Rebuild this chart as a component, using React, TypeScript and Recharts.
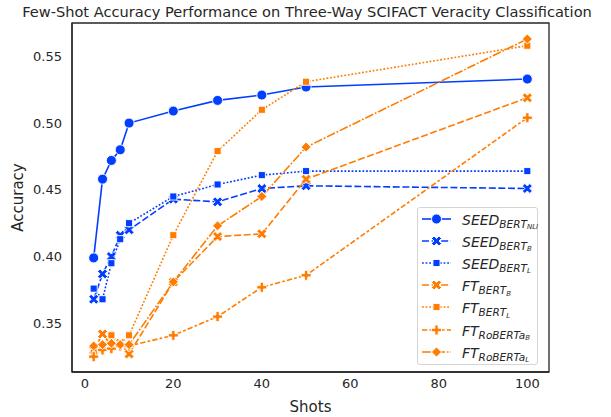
import React from 'react';
import { LineChart, Line, XAxis, YAxis, Legend, ReferenceArea } from 'recharts';

const shots = [2, 4, 6, 8, 10, 20, 30, 40, 50, 100];
const seedBertNli = [0.399, 0.458, 0.472, 0.480, 0.500, 0.509, 0.517, 0.521, 0.527, 0.533];
const seedBertB = [0.368, 0.387, 0.400, 0.416, 0.420, 0.443, 0.441, 0.451, 0.453, 0.451];
const seedBertL = [0.376, 0.368, 0.395, 0.413, 0.425, 0.445, 0.454, 0.461, 0.464, 0.464];
const ftBertB = [0.330, 0.342, 0.333, 0.335, 0.327, 0.381, 0.415, 0.417, 0.458, 0.519];
const ftBertL = [0.328, 0.333, 0.341, 0.334, 0.341, 0.416, 0.479, 0.510, 0.531, 0.558];
const ftRobertaB = [0.325, 0.330, 0.331, 0.333, 0.333, 0.341, 0.355, 0.377, 0.386, 0.504];
const ftRobertaL = [0.333, 0.334, 0.335, 0.334, 0.334, 0.381, 0.423, 0.445, 0.482, 0.563];
const xTicks = [0, 20, 40, 60, 80, 100];
const yTicks = [0.35, 0.40, 0.45, 0.50, 0.55];
const xDomain = [-2.9, 104.9];
const yDomain = [0.3135, 0.575];

const BLUE = '#023eff';
const ORANGE = '#ff7c00';
const TEXT = '#262626';
const FONT = '"DejaVu Sans", sans-serif';

type Kind = 'o' | 'X' | 's' | 'P' | 'D';

const series = [
  { key: 'seedBertNli', values: seedBertNli, color: BLUE, dash: undefined, kind: 'o' as Kind, main: 'SEED', sub: 'BERT', subsub: 'NLI' },
  { key: 'seedBertB', values: seedBertB, color: BLUE, dash: '7 2.6', kind: 'X' as Kind, main: 'SEED', sub: 'BERT', subsub: 'B' },
  { key: 'seedBertL', values: seedBertL, color: BLUE, dash: '1.8 1.8', kind: 's' as Kind, main: 'SEED', sub: 'BERT', subsub: 'L' },
  { key: 'ftBertB', values: ftBertB, color: ORANGE, dash: '7 2.6', kind: 'X' as Kind, main: 'FT', sub: 'BERT', subsub: 'B' },
  { key: 'ftBertL', values: ftBertL, color: ORANGE, dash: '1.8 1.8', kind: 's' as Kind, main: 'FT', sub: 'BERT', subsub: 'L' },
  { key: 'ftRobertaB', values: ftRobertaB, color: ORANGE, dash: '5.3 2.2 2.7 2.2', kind: 'P' as Kind, main: 'FT', sub: 'RoBERTa', subsub: 'B' },
  { key: 'ftRobertaL', values: ftRobertaL, color: ORANGE, dash: '8.8 1.8 1.8 1.8', kind: 'D' as Kind, main: 'FT', sub: 'RoBERTa', subsub: 'L' },
];

const data = shots.map((x, i) => {
  const row: Record<string, number> = { shots: x };
  series.forEach((s) => { row[s.key] = s.values[i]; });
  return row;
});

const X_PTS = [[-1, -2], [0, -1], [1, -2], [2, -1], [1, 0], [2, 1], [1, 2], [0, 1], [-1, 2], [-2, 1], [-1, 0], [-2, -1]];
const P_PTS = [[-1, -3], [1, -3], [1, -1], [3, -1], [3, 1], [1, 1], [1, 3], [-1, 3], [-1, 1], [-3, 1], [-3, -1], [-1, -1]];

function marker(kind: Kind, cx: number, cy: number, color: string, key?: any) {
  const s = 10;
  const common = { fill: color, stroke: '#ffffff', strokeWidth: 0.9 };
  if (cx == null || cy == null || isNaN(cx) || isNaN(cy)) return <g key={key} />;
  switch (kind) {
    case 'o':
      return <circle key={key} cx={cx} cy={cy} r={s / 2} {...common} />;
    case 'X':
      return <polygon key={key} points={X_PTS.map(([a, b]) => `${cx + (a * s) / 4},${cy + (b * s) / 4}`).join(' ')} {...common} />;
    case 'P':
      return <polygon key={key} points={P_PTS.map(([a, b]) => `${cx + (a * s) / 6},${cy + (b * s) / 6}`).join(' ')} {...common} />;
    case 's': {
      const h = s / 2 / Math.SQRT2;
      return <rect key={key} x={cx - h} y={cy - h} width={2 * h} height={2 * h} {...common} />;
    }
    case 'D':
    default: {
      const r = s / 2;
      return <polygon key={key} points={`${cx},${cy - r} ${cx + r},${cy} ${cx},${cy + r} ${cx - r},${cy}`} {...common} />;
    }
  }
}

function LegendBox() {
  return (
    <div
      style={{
        position: 'relative',
        width: 121,
        height: 158,
        boxSizing: 'border-box',
        border: '1px solid #d5d5d5',
        borderRadius: 3,
        background: 'rgba(255,255,255,0.8)',
        fontFamily: FONT,
        color: TEXT,
      }}
    >
      {series.map((s, i) => (
        <div key={s.key} style={{ position: 'absolute', left: 0, top: 0.5 + 22.2 * i - 1, height: 22, width: '100%' }}>
          <svg width={32} height={22} style={{ position: 'absolute', left: 3, top: 0 }}>
            <line x1={1} x2={30} y1={11} y2={11} stroke={s.color} strokeWidth={1.6} strokeDasharray={s.dash} />
            {marker(s.kind, 15.5, 11, s.color)}
          </svg>
          <div style={{ position: 'absolute', left: 44, top: 1, lineHeight: '22px', whiteSpace: 'nowrap', fontStyle: 'italic', fontSize: 14 }}>
            {s.main}
            <span style={{ fontSize: 10.5, position: 'relative', top: 3 }}>
              {s.sub}
              <span style={{ fontSize: 7, position: 'relative', top: 1.5 }}>{s.subsub}</span>
            </span>
          </div>
        </div>
      ))}
    </div>
  );
}

export default function App() {
  return (
    <div style={{ position: 'absolute', left: 0, top: 0, width: 611, height: 417, background: '#ffffff' }}>
      <div
        style={{
          position: 'absolute',
          left: 0,
          top: 3,
          width: 614,
          textAlign: 'center',
          fontFamily: FONT,
          fontSize: 14.6,
          color: TEXT,
          whiteSpace: 'nowrap',
          lineHeight: '18px',
        }}
      >
        Few-Shot Accuracy Performance on Three-Way SCIFACT Veracity Classification
      </div>
      <LineChart width={611} height={417} data={data} margin={{ top: 23, right: 62, bottom: 0, left: 0 }}>
        <XAxis
          dataKey="shots"
          type="number"
          domain={xDomain}
          ticks={xTicks}
          allowDataOverflow
          height={45}
          tickSize={0}
          tickMargin={7}
          tickLine={false}
          axisLine={{ stroke: TEXT, strokeWidth: 1.3 }}
          tick={{ fill: TEXT, fontSize: 13, fontFamily: FONT }}
          label={{ value: 'Shots', position: 'insideBottom', offset: 5, fill: TEXT, fontSize: 15, fontFamily: FONT }}
        />
        <YAxis
          type="number"
          domain={yDomain}
          ticks={yTicks}
          allowDataOverflow
          width={72}
          tickSize={0}
          tickMargin={10}
          tickLine={false}
          tickFormatter={(v: number) => v.toFixed(2)}
          axisLine={{ stroke: TEXT, strokeWidth: 1.3 }}
          tick={{ fill: TEXT, fontSize: 13, fontFamily: FONT }}
          label={{ value: 'Accuracy', angle: -90, position: 'insideLeft', offset: 18, fill: TEXT, fontSize: 15, fontFamily: FONT, style: { textAnchor: 'middle' } }}
        />
        <ReferenceArea
          x1={xDomain[0]}
          x2={xDomain[1]}
          y1={yDomain[0]}
          y2={yDomain[1]}
          fill="none"
          fillOpacity={0}
          stroke={TEXT}
          strokeWidth={1.3}
          ifOverflow="visible"
        />
        {series.map((s) => (
          <Line
            key={s.key}
            dataKey={s.key}
            type="linear"
            stroke={s.color}
            strokeWidth={1.6}
            strokeDasharray={s.dash}
            isAnimationActive={false}
            dot={(p: any) => marker(s.kind, p.cx, p.cy, s.color, `${s.key}-${p.index}`)}
            activeDot={false}
          />
        ))}
        <Legend
          layout="vertical"
          align="center"
          verticalAlign="middle"
          wrapperStyle={{ position: 'absolute', left: 417, top: 207, width: 121, height: 158 }}
          content={() => <LegendBox />}
        />
      </LineChart>
    </div>
  );
}
